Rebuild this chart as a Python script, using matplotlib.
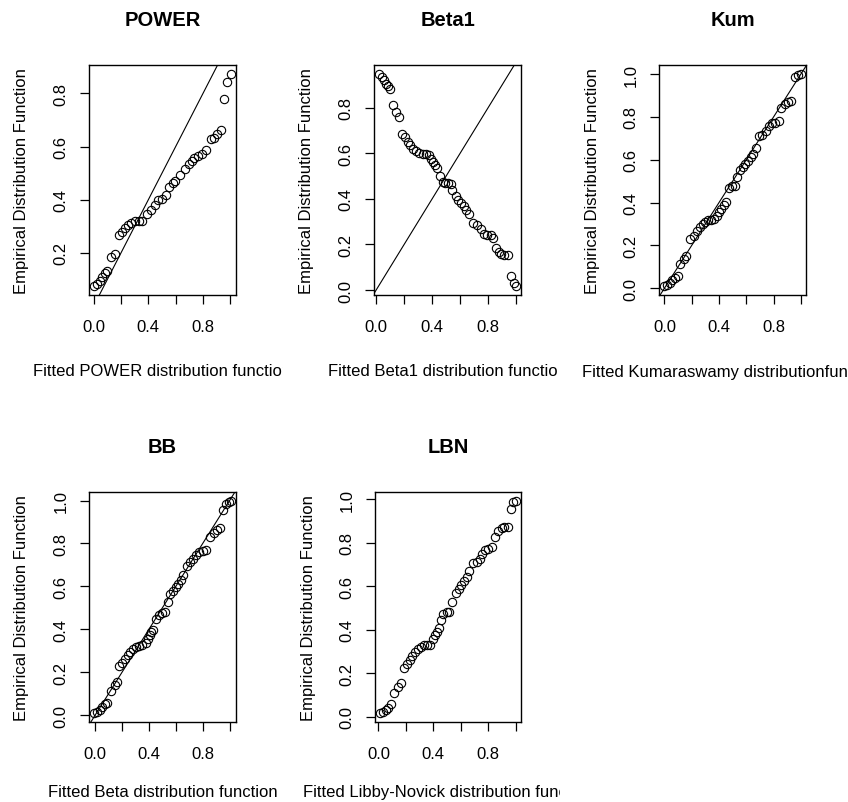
import numpy as np
import matplotlib
matplotlib.use("Agg")
import matplotlib.pyplot as plt
from matplotlib.transforms import Bbox, TransformedBbox

plt.rcParams['font.family'] = ['Liberation Sans', 'DejaVu Sans']

# panel titles and axis labels
titles = ["POWER", "Beta1", "Kum", "BB", "LBN"]
xlabels = ["Fitted POWER distribution function",
           "Fitted Beta1 distribution function",
           "Fitted Kumaraswamy distributionfunction",
           "Fitted Beta distribution function",
           "Fitted Libby-Novick distribution function"]
ylabel = "Empirical Distribution Function"
show_diag = [True, True, True, True, False]

# fitted (x) vs empirical (y) values
power_x = [0.005, 0.024, 0.043, 0.063, 0.082, 0.096, 0.125, 0.154, 0.183, 0.207,
           0.227, 0.251, 0.275, 0.304, 0.328, 0.357, 0.390, 0.419, 0.448, 0.467,
           0.501, 0.530, 0.554, 0.578, 0.598, 0.631, 0.670, 0.694, 0.718, 0.737,
           0.761, 0.790, 0.824, 0.858, 0.882, 0.906, 0.930, 0.954, 0.978, 1.002]
power_y = [0.073, 0.083, 0.092, 0.107, 0.122, 0.130, 0.184, 0.194, 0.266, 0.280,
           0.293, 0.305, 0.313, 0.318, 0.320, 0.320, 0.345, 0.360, 0.380, 0.399,
           0.404, 0.417, 0.449, 0.464, 0.471, 0.493, 0.516, 0.535, 0.545, 0.555,
           0.565, 0.572, 0.587, 0.627, 0.634, 0.649, 0.662, 0.780, 0.844, 0.875]

beta1_x = [0.024, 0.043, 0.058, 0.072, 0.087, 0.101, 0.120, 0.144, 0.163, 0.183,
           0.207, 0.226, 0.245, 0.264, 0.284, 0.308, 0.332, 0.356, 0.380, 0.394,
           0.409, 0.423, 0.438, 0.457, 0.476, 0.495, 0.514, 0.534, 0.543, 0.567,
           0.587, 0.606, 0.625, 0.644, 0.663, 0.692, 0.721, 0.745, 0.769, 0.793,
           0.817, 0.837, 0.856, 0.875, 0.894, 0.913, 0.938, 0.966, 0.981, 0.995]
beta1_y = [0.949, 0.934, 0.920, 0.905, 0.894, 0.879, 0.810, 0.781, 0.758, 0.686,
           0.671, 0.651, 0.637, 0.619, 0.609, 0.602, 0.598, 0.595, 0.591, 0.576,
           0.562, 0.547, 0.537, 0.501, 0.472, 0.469, 0.469, 0.466, 0.440, 0.412,
           0.397, 0.383, 0.368, 0.349, 0.335, 0.292, 0.284, 0.270, 0.248, 0.241,
           0.241, 0.230, 0.186, 0.169, 0.157, 0.152, 0.152, 0.061, 0.030, 0.016]

kum_x = [0.000, 0.019, 0.039, 0.058, 0.077, 0.101, 0.116, 0.140, 0.159, 0.188,
         0.217, 0.241, 0.260, 0.280, 0.299, 0.318, 0.342, 0.366, 0.386, 0.400,
         0.414, 0.434, 0.448, 0.472, 0.492, 0.516, 0.530, 0.554, 0.573, 0.593,
         0.612, 0.631, 0.651, 0.670, 0.694, 0.718, 0.742, 0.766, 0.790, 0.814,
         0.838, 0.858, 0.882, 0.906, 0.930, 0.954, 0.978, 0.998]
kum_y = [0.008, 0.017, 0.026, 0.038, 0.047, 0.057, 0.112, 0.136, 0.152, 0.228,
         0.243, 0.265, 0.286, 0.302, 0.311, 0.317, 0.320, 0.323, 0.335, 0.354,
         0.372, 0.390, 0.403, 0.467, 0.476, 0.479, 0.519, 0.550, 0.565, 0.580,
         0.596, 0.611, 0.626, 0.657, 0.709, 0.715, 0.734, 0.758, 0.770, 0.773,
         0.779, 0.841, 0.862, 0.871, 0.874, 0.988, 0.995, 1.003]

bb_x = [-0.005, 0.014, 0.034, 0.053, 0.072, 0.092, 0.120, 0.145, 0.164, 0.178,
        0.202, 0.222, 0.241, 0.260, 0.280, 0.304, 0.328, 0.352, 0.376, 0.390,
        0.405, 0.419, 0.434, 0.453, 0.472, 0.496, 0.520, 0.540, 0.559, 0.578,
        0.598, 0.617, 0.636, 0.655, 0.680, 0.704, 0.728, 0.752, 0.776, 0.800,
        0.824, 0.853, 0.882, 0.906, 0.930, 0.954, 0.973, 0.993, 1.007]
bb_y = [0.008, 0.017, 0.026, 0.038, 0.050, 0.059, 0.113, 0.141, 0.156, 0.228,
        0.244, 0.262, 0.280, 0.295, 0.307, 0.316, 0.322, 0.325, 0.337, 0.356,
        0.374, 0.389, 0.398, 0.446, 0.467, 0.477, 0.480, 0.525, 0.564, 0.579,
        0.595, 0.610, 0.631, 0.652, 0.697, 0.713, 0.728, 0.746, 0.761, 0.767,
        0.770, 0.828, 0.849, 0.861, 0.870, 0.958, 0.982, 0.994, 1.000]

lbn_x = [0.014, 0.034, 0.053, 0.072, 0.092, 0.116, 0.140, 0.164, 0.184, 0.208,
         0.227, 0.246, 0.266, 0.285, 0.309, 0.333, 0.357, 0.377, 0.396, 0.415,
         0.430, 0.444, 0.454, 0.473, 0.498, 0.517, 0.536, 0.565, 0.585, 0.604,
         0.623, 0.643, 0.662, 0.691, 0.715, 0.739, 0.758, 0.778, 0.802, 0.826,
         0.850, 0.874, 0.899, 0.918, 0.942, 0.966, 0.981, 1.000]
lbn_y = [0.014, 0.023, 0.032, 0.041, 0.056, 0.110, 0.135, 0.153, 0.225, 0.240,
         0.262, 0.280, 0.298, 0.313, 0.322, 0.328, 0.331, 0.331, 0.359, 0.374,
         0.389, 0.407, 0.446, 0.470, 0.482, 0.482, 0.525, 0.567, 0.585, 0.604,
         0.622, 0.640, 0.670, 0.707, 0.713, 0.725, 0.746, 0.767, 0.770, 0.779,
         0.824, 0.855, 0.867, 0.870, 0.873, 0.955, 0.985, 0.994]

xs = [power_x, beta1_x, kum_x, bb_x, lbn_x]
ys = [power_y, beta1_y, kum_y, bb_y, lbn_y]
yticks = [[0.2, 0.4, 0.6, 0.8],
          [0.0, 0.2, 0.4, 0.6, 0.8],
          [0.0, 0.2, 0.4, 0.6, 0.8, 1.0],
          [0.0, 0.2, 0.4, 0.6, 0.8, 1.0],
          [0.0, 0.2, 0.4, 0.6, 0.8, 1.0]]
xticks = [0.0, 0.2, 0.4, 0.6, 0.8, 1.0]
xticklabels = ["0.0", "", "0.4", "", "0.8", ""]

# layout in pixels: plot box (left, top, right, bottom), x label offset, clip range
W, H = 848, 803
boxes = [(89, 66, 236, 296), (374, 66, 521, 296), (659, 66, 806, 296),
         (89, 493, 236, 723), (375, 493, 521, 723)]
xlab_off = [76, 76, 76, 70, 70]
clips = [(0, 283), (283, 557), (562, 848), (0, 283), (283, 560)]


def r_lim(v):
    lo, hi = min(v), max(v)
    d = 0.04 * (hi - lo)
    return lo - d, hi + d


fig = plt.figure(figsize=(W / 100, H / 100), dpi=100)

for i in range(5):
    l, t, r, b = boxes[i]
    ax = fig.add_axes([l / W, 1 - b / H, (r - l) / W, (b - t) / H])
    ax.plot(xs[i], ys[i], 'o', mfc='none', mec='black', ms=6, mew=0.8)
    if show_diag[i]:
        ax.axline((0, 0), (1, 1), color='black', lw=0.8)
    ax.set_xlim(r_lim(xs[i]))
    ax.set_ylim(r_lim(ys[i]))
    ax.set_xticks(xticks)
    ax.set_xticklabels(xticklabels)
    ax.set_yticks(yticks[i])
    ax.set_yticklabels(["%.1f" % v for v in yticks[i]])
    ax.tick_params(length=6.5, width=0.9, labelsize=12, color='black')
    ax.tick_params(axis='x', pad=11)
    ax.tick_params(axis='y', pad=8)
    for lbl in ax.get_yticklabels():
        lbl.set_rotation(90)
        lbl.set_va('center')
    for s in ax.spines.values():
        s.set_linewidth(1.0)

    cx = (l + r) / 2
    cy = (t + b) / 2
    fig.text(cx / W, 1 - (t - 45) / H, titles[i], ha='center', va='center',
             fontsize=14.5, fontweight='bold')
    xl = fig.text(cx / W, 1 - (b + xlab_off[i]) / H, xlabels[i], ha='center',
                  va='center', fontsize=12)
    c0, c1 = clips[i]
    xl.set_clip_box(TransformedBbox(Bbox.from_extents(c0 / W, 0, c1 / W, 1),
                                    fig.transFigure))
    xl.set_clip_on(True)
    fig.text((l - 67) / W, 1 - cy / H, ylabel, rotation=90, ha='center',
             va='center', fontsize=12)

fig.savefig("out.png", dpi=100)
